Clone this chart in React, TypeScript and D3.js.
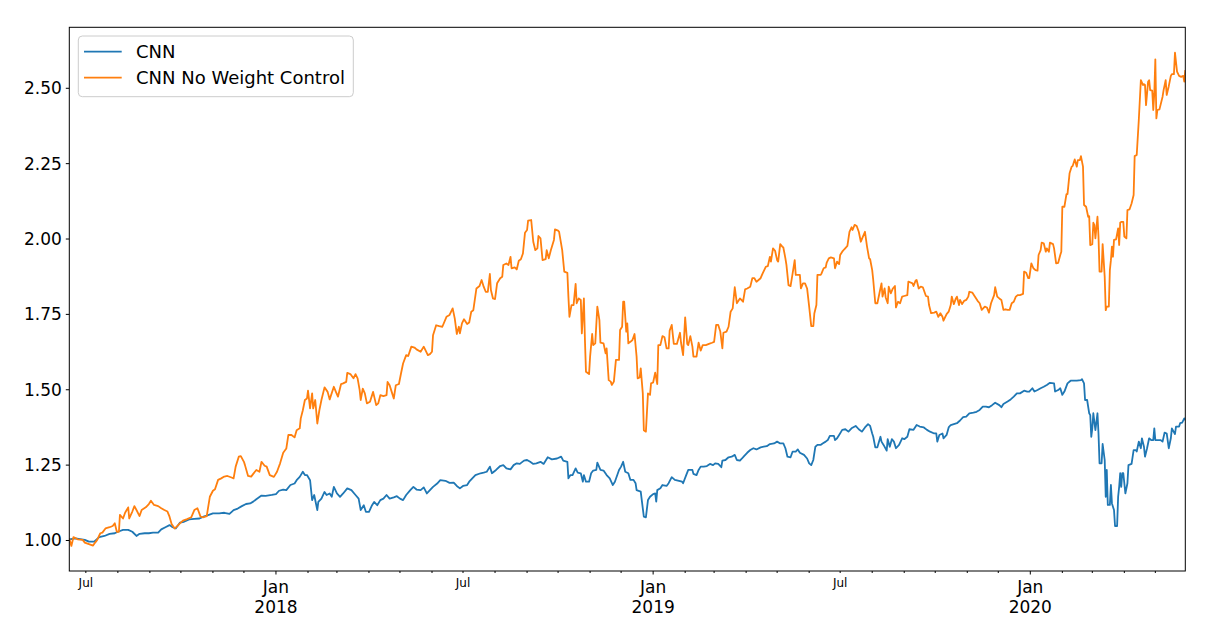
import * as d3 from "d3";

// Days are counted from the first trading day of the back-test (2017-06-15).
const START_DATE = new Date(2017, 5, 15);
const LAST_DAY = 1080;

// [days since start, cumulative value]
const cnn: [number, number][] = [
  [0, 1.004], [6, 1.007], [15, 1.002], [19, 0.996], [24, 0.996], [29, 1.011], [34, 1.015], [39, 1.022],
  [44, 1.024], [47, 1.029], [52, 1.035], [57, 1.035], [61, 1.029], [65, 1.015], [68, 1.022], [73, 1.024],
  [77, 1.024], [81, 1.026], [86, 1.026], [89, 1.037], [93, 1.044], [97, 1.051], [100, 1.044], [103, 1.04],
  [107, 1.059], [111, 1.062], [116, 1.07], [121, 1.072], [126, 1.073], [130, 1.079], [135, 1.085], [139, 1.09],
  [145, 1.09], [150, 1.092], [155, 1.088], [159, 1.101], [163, 1.106], [167, 1.114], [171, 1.121], [175, 1.123],
  [178, 1.129], [181, 1.137], [186, 1.149], [190, 1.148], [196, 1.151], [200, 1.154], [203, 1.165], [207, 1.169],
  [210, 1.167], [214, 1.184], [218, 1.189], [220, 1.2], [223, 1.211], [226, 1.228], [228, 1.217], [230, 1.217],
  [233, 1.2], [235, 1.134], [237, 1.151], [240, 1.101], [241, 1.128], [244, 1.139], [247, 1.161], [249, 1.151],
  [252, 1.156], [254, 1.145], [256, 1.178], [259, 1.156], [262, 1.145], [265, 1.156], [269, 1.173], [273, 1.167],
  [277, 1.151], [280, 1.139], [282, 1.101], [285, 1.117], [287, 1.095], [290, 1.095], [293, 1.117], [295, 1.128],
  [298, 1.117], [301, 1.134], [304, 1.139], [307, 1.151], [310, 1.139], [314, 1.143], [317, 1.147], [320, 1.139],
  [323, 1.134], [326, 1.151], [330, 1.167], [333, 1.178], [336, 1.169], [340, 1.167], [343, 1.176], [346, 1.156],
  [349, 1.167], [352, 1.178], [356, 1.189], [359, 1.2], [364, 1.198], [368, 1.191], [372, 1.192], [375, 1.181],
  [378, 1.173], [381, 1.181], [385, 1.184], [387, 1.195], [390, 1.206], [393, 1.217], [398, 1.223], [401, 1.225],
  [404, 1.228], [407, 1.245], [409, 1.223], [413, 1.234], [417, 1.247], [420, 1.25], [423, 1.239], [427, 1.236],
  [430, 1.25], [433, 1.256], [436, 1.254], [440, 1.265], [443, 1.267], [446, 1.261], [449, 1.254], [452, 1.256],
  [456, 1.261], [459, 1.254], [463, 1.276], [467, 1.269], [472, 1.272], [476, 1.278], [478, 1.265], [482, 1.261],
  [483, 1.206], [485, 1.217], [487, 1.217], [490, 1.239], [492, 1.225], [495, 1.223], [497, 1.195], [498, 1.217],
  [500, 1.195], [503, 1.195], [505, 1.223], [507, 1.232], [510, 1.234], [511, 1.258], [514, 1.234], [517, 1.232],
  [520, 1.217], [523, 1.206], [526, 1.184], [528, 1.195], [532, 1.234], [534, 1.245], [536, 1.261], [538, 1.228],
  [541, 1.223], [543, 1.201], [546, 1.201], [548, 1.19], [549, 1.167], [553, 1.162], [554, 1.134], [556, 1.079],
  [558, 1.077], [560, 1.134], [562, 1.145], [565, 1.154], [567, 1.156], [568, 1.129], [569, 1.167], [572, 1.173],
  [574, 1.184], [578, 1.181], [580, 1.19], [583, 1.21], [586, 1.201], [590, 1.198], [593, 1.195], [594, 1.19],
  [597, 1.217], [599, 1.234], [603, 1.234], [604, 1.221], [607, 1.217], [609, 1.234], [611, 1.245], [614, 1.245],
  [617, 1.247], [620, 1.254], [623, 1.25], [625, 1.256], [628, 1.254], [631, 1.243], [632, 1.265], [635, 1.267],
  [638, 1.276], [641, 1.278], [644, 1.284], [646, 1.267], [649, 1.265], [651, 1.272], [653, 1.28], [656, 1.291],
  [659, 1.3], [662, 1.306], [665, 1.302], [669, 1.309], [672, 1.311], [675, 1.313], [678, 1.32], [682, 1.322],
  [685, 1.328], [688, 1.322], [691, 1.322], [693, 1.306], [695, 1.278], [698, 1.276], [700, 1.295], [703, 1.295],
  [705, 1.302], [707, 1.291], [711, 1.284], [714, 1.272], [716, 1.256], [718, 1.25], [720, 1.267], [722, 1.311],
  [724, 1.317], [727, 1.317], [729, 1.322], [732, 1.328], [734, 1.333], [736, 1.347], [740, 1.347], [741, 1.333],
  [743, 1.339], [745, 1.35], [748, 1.367], [751, 1.369], [754, 1.361], [757, 1.372], [761, 1.38], [764, 1.369],
  [767, 1.361], [770, 1.375], [773, 1.386], [775, 1.38], [777, 1.355], [778, 1.344], [780, 1.309], [782, 1.309],
  [785, 1.344], [786, 1.328], [788, 1.317], [791, 1.298], [792, 1.336], [794, 1.311], [796, 1.336], [798, 1.328],
  [800, 1.306], [803, 1.317], [806, 1.339], [808, 1.336], [811, 1.344], [813, 1.369], [817, 1.367], [820, 1.383],
  [823, 1.378], [827, 1.375], [830, 1.367], [833, 1.361], [837, 1.355], [839, 1.355], [840, 1.328], [842, 1.35],
  [845, 1.355], [846, 1.339], [849, 1.35], [851, 1.375], [853, 1.383], [856, 1.386], [859, 1.389], [862, 1.398],
  [865, 1.409], [868, 1.411], [871, 1.422], [875, 1.424], [878, 1.427], [881, 1.433], [884, 1.444], [887, 1.444],
  [890, 1.442], [893, 1.449], [896, 1.457], [900, 1.449], [902, 1.442], [904, 1.453], [908, 1.461], [911, 1.468],
  [914, 1.477], [917, 1.488], [920, 1.488], [924, 1.497], [927, 1.494], [929, 1.494], [932, 1.505], [934, 1.494],
  [937, 1.499], [940, 1.505], [943, 1.51], [946, 1.516], [949, 1.523], [953, 1.521], [954, 1.494], [957, 1.499],
  [959, 1.505], [961, 1.483], [963, 1.494], [966, 1.521], [969, 1.53], [972, 1.53], [975, 1.53], [979, 1.532],
  [980, 1.535], [982, 1.521], [983, 1.466], [985, 1.466], [987, 1.422], [988, 1.416], [989, 1.344], [990, 1.372],
  [991, 1.422], [993, 1.366], [995, 1.422], [996, 1.355], [997, 1.256], [999, 1.256], [1000, 1.32], [1002, 1.267],
  [1003, 1.145], [1004, 1.234], [1005, 1.118], [1007, 1.118], [1008, 1.184], [1009, 1.123], [1011, 1.101], [1012, 1.048],
  [1014, 1.048], [1015, 1.145], [1016, 1.178], [1017, 1.223], [1018, 1.178], [1019, 1.223], [1020, 1.223], [1022, 1.156],
  [1024, 1.19], [1025, 1.25], [1028, 1.254], [1030, 1.3], [1032, 1.3], [1033, 1.295], [1035, 1.328], [1037, 1.306],
  [1038, 1.339], [1040, 1.311], [1041, 1.278], [1043, 1.306], [1045, 1.339], [1047, 1.333], [1049, 1.333], [1050, 1.372],
  [1051, 1.333], [1053, 1.333], [1056, 1.333], [1058, 1.328], [1060, 1.358], [1062, 1.355], [1064, 1.306], [1066, 1.339],
  [1067, 1.372], [1070, 1.353], [1071, 1.378], [1074, 1.378], [1075, 1.389], [1077, 1.391], [1079, 1.405], [1080, 1.4],
];

const cnnNoWeightControl: [number, number][] = [
  [0, 1.007], [2, 0.982], [4, 1.011], [8, 1.004], [13, 1.002], [15, 0.993], [19, 0.988], [23, 0.983],
  [25, 0.993], [27, 1.002], [30, 1.024], [32, 1.026], [35, 1.04], [39, 1.044], [42, 1.048], [44, 1.057],
  [46, 1.029], [48, 1.029], [49, 1.085], [52, 1.073], [54, 1.092], [57, 1.11], [58, 1.073], [61, 1.096],
  [63, 1.114], [65, 1.101], [68, 1.081], [70, 1.101], [74, 1.11], [77, 1.121], [79, 1.132], [82, 1.118],
  [86, 1.114], [89, 1.107], [92, 1.101], [95, 1.096], [97, 1.079], [99, 1.055], [102, 1.04], [104, 1.046],
  [107, 1.057], [110, 1.066], [114, 1.071], [118, 1.077], [121, 1.101], [124, 1.107], [127, 1.079], [130, 1.077],
  [133, 1.081], [136, 1.145], [139, 1.165], [141, 1.17], [144, 1.201], [147, 1.206], [150, 1.212], [153, 1.214],
  [157, 1.209], [159, 1.206], [161, 1.245], [164, 1.278], [166, 1.28], [169, 1.261], [170, 1.25], [173, 1.214],
  [176, 1.212], [178, 1.221], [181, 1.234], [184, 1.228], [186, 1.261], [189, 1.248], [191, 1.245], [194, 1.217],
  [198, 1.211], [201, 1.228], [204, 1.256], [207, 1.291], [210, 1.305], [212, 1.35], [215, 1.35], [218, 1.342],
  [220, 1.366], [223, 1.372], [224, 1.405], [226, 1.432], [228, 1.466], [230, 1.471], [231, 1.497], [233, 1.438],
  [235, 1.488], [236, 1.438], [238, 1.466], [240, 1.388], [242, 1.432], [244, 1.466], [247, 1.508], [250, 1.493],
  [252, 1.468], [256, 1.51], [258, 1.493], [260, 1.477], [263, 1.519], [265, 1.521], [268, 1.526], [269, 1.556],
  [272, 1.552], [275, 1.538], [277, 1.552], [279, 1.538], [281, 1.499], [282, 1.466], [284, 1.504], [286, 1.488],
  [288, 1.455], [291, 1.46], [294, 1.493], [297, 1.449], [299, 1.455], [301, 1.482], [304, 1.479], [307, 1.482],
  [308, 1.526], [310, 1.515], [312, 1.493], [314, 1.471], [316, 1.515], [319, 1.519], [321, 1.554], [323, 1.587],
  [326, 1.615], [328, 1.612], [331, 1.643], [334, 1.64], [336, 1.634], [340, 1.626], [343, 1.643], [347, 1.615],
  [349, 1.618], [351, 1.626], [352, 1.681], [355, 1.714], [358, 1.711], [361, 1.709], [365, 1.742], [368, 1.748],
  [371, 1.77], [373, 1.737], [375, 1.685], [377, 1.709], [378, 1.687], [380, 1.72], [382, 1.734], [385, 1.718],
  [387, 1.723], [389, 1.759], [391, 1.764], [394, 1.836], [397, 1.844], [399, 1.864], [401, 1.842], [403, 1.825],
  [405, 1.825], [407, 1.884], [408, 1.831], [410, 1.803], [412, 1.801], [414, 1.853], [417, 1.87], [419, 1.875],
  [420, 1.914], [423, 1.919], [425, 1.914], [427, 1.941], [428, 1.903], [431, 1.906], [433, 1.899], [435, 1.928],
  [437, 1.933], [439, 1.952], [441, 2.021], [443, 2.03], [444, 2.061], [447, 2.063], [449, 1.991], [451, 1.963],
  [453, 1.969], [454, 2.01], [456, 2.002], [458, 1.93], [461, 1.933], [462, 1.963], [464, 1.936], [466, 1.963],
  [469, 1.997], [470, 2.032], [473, 2.028], [474, 2.024], [477, 1.963], [479, 1.892], [482, 1.888], [483, 1.809],
  [484, 1.742], [486, 1.781], [488, 1.781], [490, 1.851], [491, 1.787], [493, 1.803], [495, 1.798], [496, 1.687],
  [498, 1.803], [499, 1.665], [500, 1.56], [503, 1.552], [504, 1.61], [506, 1.685], [507, 1.648], [509, 1.654],
  [511, 1.776], [513, 1.731], [514, 1.656], [517, 1.654], [519, 1.621], [520, 1.637], [522, 1.532], [524, 1.527],
  [525, 1.516], [527, 1.527], [529, 1.599], [532, 1.599], [533, 1.698], [535, 1.709], [536, 1.792], [537, 1.792],
  [539, 1.693], [540, 1.72], [541, 1.654], [543, 1.659], [545, 1.665], [547, 1.685], [549, 1.61], [550, 1.538],
  [552, 1.541], [553, 1.571], [555, 1.488], [556, 1.366], [558, 1.361], [560, 1.488], [562, 1.483], [563, 1.521],
  [565, 1.524], [567, 1.557], [569, 1.519], [570, 1.648], [572, 1.648], [574, 1.678], [576, 1.674], [578, 1.637],
  [580, 1.637], [581, 1.696], [583, 1.715], [585, 1.652], [588, 1.652], [591, 1.689], [592, 1.656], [594, 1.615],
  [596, 1.74], [598, 1.652], [599, 1.648], [601, 1.678], [603, 1.643], [604, 1.61], [607, 1.61], [609, 1.656],
  [611, 1.63], [613, 1.648], [616, 1.648], [619, 1.652], [622, 1.656], [624, 1.659], [626, 1.715], [628, 1.715],
  [630, 1.693], [632, 1.637], [633, 1.689], [636, 1.693], [638, 1.709], [640, 1.759], [642, 1.77], [644, 1.84],
  [646, 1.787], [649, 1.803], [652, 1.792], [654, 1.833], [656, 1.836], [659, 1.842], [661, 1.87], [663, 1.87],
  [665, 1.858], [667, 1.864], [669, 1.87], [671, 1.886], [674, 1.908], [676, 1.91], [678, 1.941], [679, 1.925],
  [681, 1.969], [683, 1.961], [685, 1.93], [686, 1.925], [688, 1.983], [690, 1.975], [691, 1.972], [693, 1.936],
  [694, 1.914], [696, 1.847], [698, 1.844], [700, 1.886], [702, 1.93], [703, 1.881], [705, 1.881], [707, 1.881],
  [708, 1.836], [710, 1.853], [712, 1.853], [714, 1.836], [716, 1.776], [718, 1.711], [720, 1.711], [721, 1.753],
  [723, 1.781], [724, 1.881], [727, 1.881], [728, 1.886], [730, 1.903], [732, 1.906], [733, 1.922], [735, 1.936],
  [737, 1.939], [740, 1.936], [741, 1.903], [743, 1.925], [745, 1.917], [746, 1.947], [748, 1.958], [750, 1.966],
  [753, 1.977], [755, 2.024], [757, 2.039], [758, 2.03], [760, 2.047], [762, 2.043], [764, 2.024], [766, 1.991],
  [768, 2.008], [770, 2.024], [772, 1.975], [774, 1.936], [775, 1.933], [777, 1.897], [778, 1.864], [780, 1.787],
  [782, 1.787], [784, 1.82], [786, 1.853], [787, 1.809], [789, 1.836], [790, 1.807], [792, 1.787], [793, 1.842],
  [795, 1.82], [797, 1.836], [799, 1.844], [800, 1.773], [802, 1.792], [804, 1.787], [806, 1.809], [808, 1.811],
  [811, 1.814], [812, 1.859], [816, 1.853], [817, 1.844], [819, 1.862], [820, 1.864], [822, 1.836], [824, 1.842],
  [826, 1.84], [829, 1.811], [831, 1.809], [832, 1.781], [834, 1.754], [837, 1.756], [839, 1.759], [841, 1.742],
  [843, 1.754], [845, 1.742], [846, 1.729], [849, 1.751], [851, 1.759], [853, 1.781], [854, 1.809], [856, 1.784],
  [858, 1.803], [859, 1.809], [861, 1.781], [862, 1.798], [864, 1.784], [866, 1.795], [868, 1.798], [870, 1.809],
  [871, 1.825], [874, 1.822], [876, 1.811], [879, 1.795], [881, 1.787], [883, 1.765], [886, 1.776], [888, 1.773],
  [890, 1.756], [892, 1.787], [895, 1.814], [896, 1.84], [898, 1.809], [900, 1.803], [902, 1.798], [904, 1.765],
  [906, 1.767], [908, 1.765], [910, 1.765], [912, 1.787], [914, 1.792], [916, 1.809], [918, 1.814], [920, 1.814],
  [923, 1.818], [924, 1.892], [926, 1.888], [928, 1.87], [929, 1.87], [931, 1.919], [933, 1.903], [935, 1.897],
  [937, 1.895], [938, 1.947], [940, 1.963], [941, 1.988], [943, 1.986], [945, 1.958], [946, 1.969], [948, 1.958],
  [949, 1.988], [952, 1.983], [953, 1.969], [955, 1.919], [957, 1.921], [959, 1.947], [960, 1.958], [961, 2.107],
  [963, 2.107], [965, 2.149], [966, 2.149], [968, 2.218], [970, 2.24], [971, 2.242], [973, 2.264], [975, 2.24],
  [976, 2.262], [978, 2.262], [979, 2.275], [981, 2.24], [982, 2.113], [984, 2.107], [986, 2.074], [987, 2.076],
  [988, 1.98], [990, 1.983], [991, 2.054], [992, 2.046], [993, 2.002], [995, 2.074], [996, 2.008], [997, 1.892],
  [999, 1.892], [1000, 1.983], [1002, 1.875], [1003, 1.764], [1004, 1.776], [1006, 1.776], [1007, 1.897], [1008, 1.93],
  [1009, 1.975], [1010, 1.941], [1011, 1.997], [1013, 1.999], [1015, 2.035], [1016, 1.98], [1017, 2.054], [1018, 2.057],
  [1020, 2.057], [1021, 2.008], [1023, 2.002], [1024, 2.096], [1026, 2.098], [1028, 2.118], [1030, 2.146], [1031, 2.275],
  [1033, 2.279], [1035, 2.395], [1036, 2.461], [1037, 2.527], [1039, 2.511], [1040, 2.514], [1041, 2.511], [1042, 2.444],
  [1044, 2.522], [1045, 2.527], [1046, 2.494], [1048, 2.492], [1049, 2.428], [1050, 2.483], [1051, 2.596], [1052, 2.4],
  [1053, 2.428], [1055, 2.43], [1058, 2.472], [1059, 2.494], [1061, 2.527], [1062, 2.478], [1064, 2.507], [1066, 2.541],
  [1067, 2.547], [1069, 2.547], [1070, 2.618], [1072, 2.555], [1074, 2.541], [1076, 2.538], [1078, 2.541], [1079, 2.522],
  [1080, 2.56],
];

const seriesNames = ["CNN", "CNN No Weight Control"];
const seriesColors = ["#1f77b4", "#ff7f0e"];
const yTickValues = [1.0, 1.25, 1.5, 1.75, 2.0, 2.25, 2.5];

const W = 1219;
const H = 633;
const plot = { left: 69.3, right: 1185.3, top: 27.3, bottom: 571 };
const FONT = "DejaVu Sans, sans-serif";

export default function App() {
  const endDate = d3.timeDay.offset(START_DATE, LAST_DAY);
  const x = d3.scaleTime().domain([START_DATE, endDate]).range([plot.left, plot.right]);
  const y = d3.scaleLinear().domain([0.8988, 2.7023]).range([plot.bottom, plot.top]);

  const line = d3
    .line<[number, number]>()
    .x((d) => x(d3.timeDay.offset(START_DATE, d[0])))
    .y((d) => y(d[1]));

  const months = d3.timeMonth.range(d3.timeMonth.ceil(START_DATE), d3.timeDay.offset(endDate, 1));
  const series = [cnn, cnnNoWeightControl];

  return (
    <svg width={W} height={H} style={{ position: "absolute", left: 0, top: 0 }} fontFamily={FONT}>
      <rect width={W} height={H} fill="#fff" />
      <defs>
        <clipPath id="plot-clip">
          <rect x={plot.left} y={plot.top} width={plot.right - plot.left} height={plot.bottom - plot.top} />
        </clipPath>
      </defs>

      <g clipPath="url(#plot-clip)">
        {series.map((s, i) => (
          <path key={i} d={line(s) ?? ""} fill="none" stroke={seriesColors[i]} strokeWidth={1.8} strokeLinejoin="round" />
        ))}
      </g>

      {/* y axis */}
      {yTickValues.map((v) => (
        <g key={v} transform={`translate(0,${y(v)})`}>
          <line x1={plot.left - 3.5} x2={plot.left} stroke="#000" strokeWidth={1} />
          <text x={plot.left - 7.5} dy="0.35em" textAnchor="end" fontSize={17} fill="#000">
            {d3.format(".2f")(v)}
          </text>
        </g>
      ))}

      {/* x axis: month ticks, Jan major with year, Jul labelled small */}
      {months.map((m) => {
        const isJan = m.getMonth() === 0;
        const isJul = m.getMonth() === 6;
        const px = x(m);
        return (
          <g key={m.toISOString()} transform={`translate(${px},0)`}>
            <line y1={plot.bottom} y2={plot.bottom + (isJan ? 3.5 : 2)} stroke="#000" strokeWidth={1} />
            {isJan && (
              <text textAnchor="middle" fontSize={17} fill="#000">
                <tspan x={0} y={592.5}>{d3.timeFormat("%b")(m)}</tspan>
                <tspan x={0} y={612.5}>{d3.timeFormat("%Y")(m)}</tspan>
              </text>
            )}
            {isJul && (
              <text y={586.5} textAnchor="middle" fontSize={12} fill="#000">
                {d3.timeFormat("%b")(m)}
              </text>
            )}
          </g>
        );
      })}

      {/* frame */}
      <rect
        x={plot.left}
        y={plot.top}
        width={plot.right - plot.left}
        height={plot.bottom - plot.top}
        fill="none"
        stroke="#000"
        strokeWidth={1}
      />

      {/* legend */}
      <g>
        <rect x={78.3} y={36} width={275} height={60.7} rx={4} fill="#fff" fillOpacity={0.8} stroke="#cccccc" strokeWidth={1} />
        {seriesNames.map((name, i) => (
          <g key={name} transform={`translate(0,${51.7 + i * 26})`}>
            <line x1={84} x2={121.7} stroke={seriesColors[i]} strokeWidth={1.8} />
            <text x={136} dy="0.35em" fontSize={18} fill="#000">
              {name}
            </text>
          </g>
        ))}
      </g>
    </svg>
  );
}
